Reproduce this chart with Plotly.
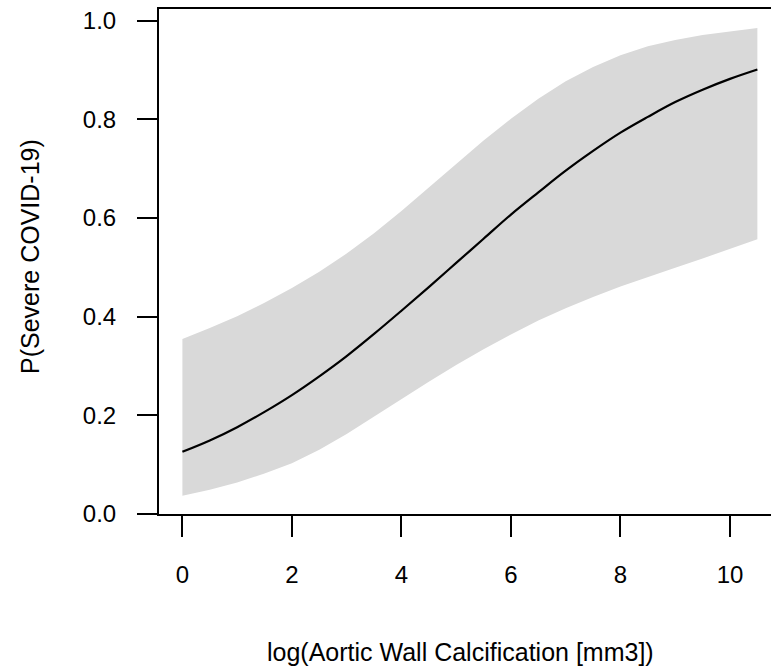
import plotly.graph_objects as go

# values
log_calc = [0, 0.5, 1, 1.5, 2, 2.5, 3, 3.5, 4, 4.5, 5, 5.5, 6, 6.5, 7, 7.5, 8, 8.5, 9, 9.5, 10, 10.5]
p_fit = [0.126, 0.149, 0.176, 0.207, 0.241, 0.279, 0.320, 0.365, 0.412, 0.460, 0.509,
         0.558, 0.607, 0.652, 0.696, 0.736, 0.773, 0.805, 0.835, 0.860, 0.882, 0.901]
p_upper = [0.355, 0.377, 0.401, 0.428, 0.458, 0.491, 0.528, 0.569, 0.614, 0.662, 0.710,
           0.757, 0.801, 0.842, 0.877, 0.906, 0.930, 0.948, 0.961, 0.971, 0.978, 0.985]
p_lower = [0.037, 0.049, 0.064, 0.082, 0.103, 0.130, 0.162, 0.197, 0.233, 0.268, 0.302,
           0.334, 0.364, 0.392, 0.417, 0.440, 0.461, 0.480, 0.499, 0.518, 0.537, 0.557]
x_ticks = [0, 2, 4, 6, 8, 10]
y_ticks = [0.0, 0.2, 0.4, 0.6, 0.8, 1.0]
y_tick_text = ["0.0", "0.2", "0.4", "0.6", "0.8", "1.0"]

FONT = "Liberation Sans, Arial, sans-serif"

fig = go.Figure()
fig.add_trace(go.Scatter(
    x=log_calc + log_calc[::-1],
    y=p_upper + p_lower[::-1],
    fill="toself", fillcolor="#d9d9d9",
    line=dict(width=0, color="#d9d9d9"),
    mode="lines", hoverinfo="skip", showlegend=False,
))
fig.add_trace(go.Scatter(
    x=log_calc, y=p_fit, mode="lines",
    line=dict(color="black", width=2.2, shape="spline"),
    showlegend=False,
))

fig.update_layout(
    template="none",
    width=771, height=668,
    margin=dict(l=159, r=0, t=9, b=154, autoexpand=False),
    paper_bgcolor="white", plot_bgcolor="white",
    font=dict(family=FONT, size=24, color="black"),
    xaxis=dict(
        range=[-0.4273, 10.749], showgrid=False, zeroline=False, automargin=False,
        showline=True, linecolor="black", linewidth=2, mirror=True,
        ticks="outside", ticklen=21, tickwidth=2, tickcolor="black",
        tickvals=x_ticks, ticklabelstandoff=17, ticklabeloverflow="allow",
        tickfont=dict(family=FONT, size=24, color="black"),
    ),
    yaxis=dict(
        range=[0, 1.0237], showgrid=False, zeroline=False, automargin=False,
        showline=True, linecolor="black", linewidth=2, mirror=False,
        ticks="outside", ticklen=20, tickwidth=2, tickcolor="black",
        tickvals=y_ticks, ticktext=y_tick_text, ticklabelstandoff=16,
        ticklabeloverflow="allow",
        tickfont=dict(family=FONT, size=24, color="black"),
    ),
    annotations=[
        dict(text="log(Aortic Wall Calcification [mm3])", xref="paper", yref="paper",
             x=(460 - 159) / 612, y=-(652 - 514) / 505, xanchor="center", yanchor="middle",
             showarrow=False, font=dict(family=FONT, size=25, color="black")),
        dict(text="P(Severe COVID-19)", xref="paper", yref="paper",
             x=-(159 - 30) / 612, y=(514 - 257) / 505, xanchor="center", yanchor="middle",
             textangle=-90, showarrow=False, font=dict(family=FONT, size=25, color="black")),
    ],
)

fig.write_html(
    "out.html",
    config={"displayModeBar": False},
    post_script="document.body.style.margin='0px';document.body.style.overflow='hidden';",
)
